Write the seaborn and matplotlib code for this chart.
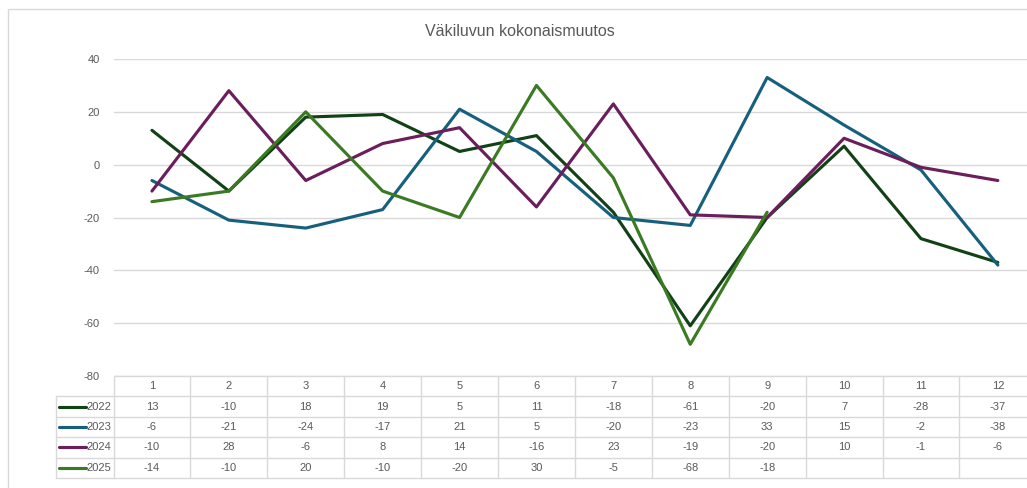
import numpy as np
import pandas as pd
import matplotlib
matplotlib.use("Agg")
import matplotlib.pyplot as plt
import seaborn as sns
from matplotlib.lines import Line2D
from matplotlib.patches import Rectangle

months = [1, 2, 3, 4, 5, 6, 7, 8, 9, 10, 11, 12]
years = ["2022", "2023", "2024", "2025"]
v2022 = [13, -10, 18, 19, 5, 11, -18, -61, -20, 7, -28, -37]
v2023 = [-6, -21, -24, -17, 21, 5, -20, -23, 33, 15, -2, -38]
v2024 = [-10, 28, -6, 8, 14, -16, 23, -19, -20, 10, -1, -6]
v2025 = [-14, -10, 20, -10, -20, 30, -5, -68, -18, None, None, None]
title = "Väkiluvun kokonaismuutos"
yticks = [40, 20, 0, -20, -40, -60, -80]

colors = {"2022": "#124116", "2023": "#17607D", "2024": "#6A1E5C", "2025": "#3A7A22"}
series = {"2022": v2022, "2023": v2023, "2024": v2024, "2025": v2025}

rows = []
for y in years:
    for i, m in enumerate(months):
        val = series[y][i]
        rows.append({"idx": i, "month": m, "year": y,
                     "value": np.nan if val is None else val})
df = pd.DataFrame(rows)

sns.set_theme(style="white")
plt.rcParams["font.family"] = ["Liberation Sans Narrow", "Liberation Sans", "DejaVu Sans"]

W, H = 1027, 488
fig = plt.figure(figsize=(W / 100, H / 100), dpi=100)
fig.patch.set_facecolor("white")

def fx(px):
    return px / W

def fy(py):
    return 1 - py / H

# outer chart border (right and bottom edges fall outside the picture)
fig.add_artist(Rectangle((fx(8), fy(500)), fx(1045) - fx(8), fy(9) - fy(500),
                         transform=fig.transFigure, fill=False,
                         edgecolor="#d9d9d9", linewidth=1, clip_on=False))

left = 113.5
colw = 76.9
ncol = len(months)
right = left + ncol * colw
top, bot = 59, 376
ax = fig.add_axes([fx(left), fy(bot), fx(right) - fx(left), fy(top) - fy(bot)])

gray = "#595959"
for yv in yticks:
    ax.axhline(yv, color="#d9d9d9", linewidth=1, zorder=0)

sns.lineplot(data=df, x="idx", y="value", hue="year", palette=colors,
             linewidth=2.25, ax=ax, legend=False, sort=False)

ax.set_xlim(-0.5, 11.5)
ax.set_ylim(-80, 40)
ax.set_yticks(yticks)
ax.set_yticklabels([str(t) for t in yticks], color=gray, fontsize=8)
ax.tick_params(axis="y", length=0, pad=10)
ax.set_xticks([])
ax.set_xlabel("")
ax.set_ylabel("")
for s in ax.spines.values():
    s.set_visible(False)

fig.text(fx(520), fy(32), title, ha="center", va="center", fontsize=11.5, color=gray)

# data table
tab_left = 56
tab_top, tab_bot = 376, 478
rowh = (tab_bot - tab_top) / 5
lc = "#d9d9d9"

def hline(py, x0, x1):
    fig.add_artist(Line2D([fx(x0), fx(x1)], [fy(py), fy(py)], transform=fig.transFigure,
                          color=lc, linewidth=1))

def vline(px, y0, y1):
    fig.add_artist(Line2D([fx(px), fx(px)], [fy(y0), fy(y1)], transform=fig.transFigure,
                          color=lc, linewidth=1))

hline(tab_top, left, right)
for r in range(1, 6):
    hline(tab_top + r * rowh, tab_left, right)
vline(tab_left, tab_top + rowh, tab_bot)
for c in range(ncol + 1):
    vline(left + c * colw, tab_top, tab_bot)

for c, m in enumerate(months):
    cx = left + (c + 0.5) * colw
    fig.text(fx(cx), fy(tab_top + 0.5 * rowh), str(m), ha="center", va="center",
             fontsize=8, color=gray)

for r, y in enumerate(years):
    cy = tab_top + (r + 1.5) * rowh
    fig.add_artist(Line2D([fx(59), fx(86)], [fy(cy), fy(cy)], transform=fig.transFigure,
                          color=colors[y], linewidth=2.25, solid_capstyle="round"))
    fig.text(fx(111), fy(cy), y, ha="right", va="center", fontsize=8, color=gray)
    for c in range(ncol):
        val = series[y][c]
        if val is None:
            continue
        cx = left + (c + 0.5) * colw
        fig.text(fx(cx), fy(cy), str(val), ha="center", va="center", fontsize=8, color=gray)

fig.savefig("out.png", dpi=100, facecolor="white")
